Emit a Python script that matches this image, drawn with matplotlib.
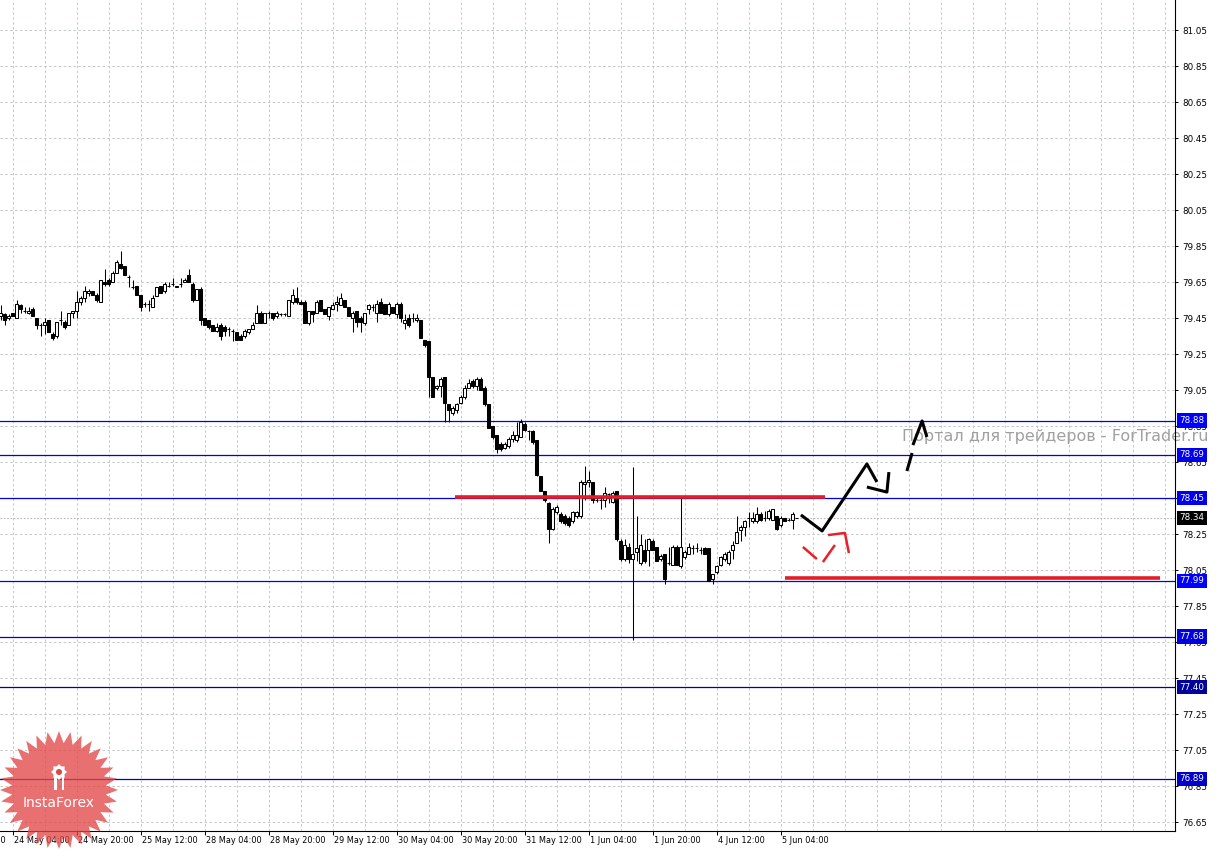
import numpy as np
import matplotlib
matplotlib.use('Agg')
import matplotlib.pyplot as plt
from matplotlib.patches import Polygon, Circle, Rectangle

# H1 candles, bar 0 .. 199
opens = [
    79.46, 79.47, 79.45, 79.48, 79.45, 79.52, 79.49, 79.48, 79.50, 79.45,
    79.41, 79.41, 79.44, 79.36, 79.35, 79.44, 79.43, 79.41, 79.48, 79.49,
    79.54, 79.56, 79.59, 79.60, 79.58, 79.54, 79.65, 79.66, 79.65, 79.70,
    79.75, 79.74, 79.68, 79.62, 79.63, 79.58, 79.53, 79.53, 79.51, 79.57,
    79.63, 79.60, 79.63, 79.64, 79.62, 79.64, 79.65, 79.69, 79.64, 79.55,
    79.61, 79.45, 79.44, 79.41, 79.38, 79.41, 79.40, 79.39, 79.38, 79.37,
    79.35, 79.35, 79.37, 79.39, 79.42, 79.48, 79.42, 79.48, 79.48, 79.46,
    79.47, 79.47, 79.46, 79.54, 79.56, 79.54, 79.54, 79.42, 79.49, 79.48,
    79.55, 79.50, 79.46, 79.50, 79.53, 79.52, 79.55, 79.51, 79.45, 79.49,
    79.45, 79.42, 79.50, 79.51, 79.48, 79.54, 79.53, 79.47, 79.51, 79.47,
    79.53, 79.42, 79.45, 79.45, 79.44, 79.44, 79.33, 79.32, 79.12, 79.06,
    79.07, 79.12, 78.97, 78.92, 78.94, 78.98, 79.01, 79.06, 79.10, 79.07,
    79.11, 79.06, 78.97, 78.85, 78.80, 78.75, 78.73, 78.74, 78.78, 78.77,
    78.79, 78.86, 78.82, 78.82, 78.77, 78.57, 78.49, 78.42, 78.28, 78.37,
    78.36, 78.35, 78.34, 78.32, 78.35, 78.35, 78.53, 78.54, 78.54, 78.44,
    78.44, 78.44, 78.47, 78.43, 78.49, 78.21, 78.11, 78.18, 78.11, 78.15,
    78.09, 78.16, 78.16, 78.21, 78.18, 78.11, 78.14, 78.09, 78.08, 78.18,
    78.07, 78.12, 78.14, 78.17, 78.17, 78.16, 78.17, 78.17, 78.00, 78.04,
    78.08, 78.11, 78.09, 78.16, 78.20, 78.27, 78.29, 78.34, 78.32, 78.32,
    78.36, 78.34, 78.34, 78.33, 78.35, 78.30, 78.34, 78.33, 78.33, 78.34,
]
highs = [
    79.52, 79.48, 79.47, 79.48, 79.55, 79.53, 79.51, 79.51, 79.51, 79.45,
    79.42, 79.45, 79.44, 79.37, 79.43, 79.49, 79.44, 79.48, 79.49, 79.60,
    79.57, 79.63, 79.61, 79.60, 79.59, 79.66, 79.72, 79.67, 79.71, 79.77,
    79.82, 79.74, 79.69, 79.66, 79.63, 79.58, 79.54, 79.55, 79.58, 79.62,
    79.63, 79.65, 79.65, 79.67, 79.63, 79.67, 79.67, 79.72, 79.65, 79.61,
    79.62, 79.45, 79.44, 79.41, 79.42, 79.42, 79.41, 79.40, 79.39, 79.37,
    79.36, 79.39, 79.39, 79.43, 79.52, 79.49, 79.48, 79.49, 79.48, 79.49,
    79.48, 79.48, 79.55, 79.61, 79.62, 79.55, 79.55, 79.49, 79.49, 79.55,
    79.55, 79.50, 79.51, 79.54, 79.57, 79.59, 79.55, 79.51, 79.49, 79.49,
    79.46, 79.48, 79.53, 79.53, 79.55, 79.56, 79.53, 79.54, 79.51, 79.54,
    79.54, 79.47, 79.47, 79.48, 79.47, 79.44, 79.33, 79.32, 79.12, 79.08,
    79.12, 79.12, 78.97, 78.96, 78.98, 79.02, 79.08, 79.11, 79.11, 79.12,
    79.12, 79.07, 78.97, 78.85, 78.80, 78.76, 78.76, 78.79, 78.82, 78.87,
    78.89, 78.87, 78.83, 78.83, 78.77, 78.57, 78.49, 78.43, 78.40, 78.41,
    78.37, 78.36, 78.35, 78.38, 78.38, 78.55, 78.63, 78.60, 78.54, 78.45,
    78.46, 78.51, 78.48, 78.49, 78.49, 78.22, 78.22, 78.20, 78.62, 78.35,
    78.25, 78.22, 78.23, 78.22, 78.18, 78.14, 78.14, 78.18, 78.19, 78.19,
    78.46, 78.16, 78.20, 78.19, 78.20, 78.18, 78.18, 78.17, 78.03, 78.08,
    78.13, 78.15, 78.16, 78.21, 78.35, 78.30, 78.33, 78.37, 78.37, 78.40,
    78.37, 78.38, 78.39, 78.39, 78.35, 78.35, 78.34, 78.34, 78.37, 78.34,
]
lows = [
    79.44, 79.41, 79.44, 79.46, 79.45, 79.48, 79.48, 79.47, 79.46, 79.39,
    79.35, 79.36, 79.37, 79.33, 79.34, 79.41, 79.39, 79.41, 79.45, 79.45,
    79.52, 79.54, 79.57, 79.58, 79.54, 79.54, 79.63, 79.63, 79.65, 79.70,
    79.72, 79.69, 79.62, 79.61, 79.58, 79.49, 79.51, 79.49, 79.51, 79.57,
    79.59, 79.59, 79.62, 79.63, 79.62, 79.62, 79.65, 79.65, 79.54, 79.55,
    79.41, 79.41, 79.39, 79.38, 79.37, 79.33, 79.35, 79.35, 79.32, 79.33,
    79.33, 79.34, 79.36, 79.39, 79.42, 79.42, 79.42, 79.45, 79.44, 79.45,
    79.46, 79.46, 79.46, 79.53, 79.53, 79.53, 79.42, 79.41, 79.43, 79.48,
    79.49, 79.47, 79.44, 79.50, 79.49, 79.52, 79.51, 79.46, 79.37, 79.40,
    79.37, 79.41, 79.47, 79.49, 79.43, 79.48, 79.47, 79.46, 79.48, 79.45,
    79.43, 79.39, 79.40, 79.43, 79.43, 79.34, 79.29, 79.01, 79.01, 79.05,
    79.01, 78.87, 78.87, 78.91, 78.92, 78.97, 79.00, 79.06, 79.06, 79.05,
    79.05, 78.96, 78.84, 78.78, 78.70, 78.71, 78.72, 78.73, 78.76, 78.76,
    78.79, 78.82, 78.77, 78.75, 78.57, 78.49, 78.43, 78.20, 78.27, 78.36,
    78.31, 78.30, 78.29, 78.31, 78.34, 78.34, 78.44, 78.51, 78.42, 78.43,
    78.39, 78.40, 78.42, 78.42, 78.21, 78.10, 78.10, 78.09, 77.66, 78.10,
    78.08, 78.09, 78.07, 78.16, 78.10, 78.10, 77.97, 78.08, 78.08, 78.08,
    78.06, 78.11, 78.14, 78.14, 78.15, 78.14, 78.14, 77.99, 77.97, 78.03,
    78.07, 78.10, 78.08, 78.11, 78.20, 78.21, 78.24, 78.29, 78.31, 78.31,
    78.32, 78.32, 78.33, 78.33, 78.27, 78.29, 78.32, 78.32, 78.28, 78.34,
]
closes = [
    79.48, 79.44, 79.46, 79.46, 79.53, 79.50, 79.49, 79.49, 79.46, 79.41,
    79.41, 79.43, 79.37, 79.34, 79.43, 79.44, 79.40, 79.48, 79.49, 79.54,
    79.56, 79.60, 79.60, 79.58, 79.55, 79.66, 79.64, 79.64, 79.70, 79.76,
    79.73, 79.69, 79.68, 79.62, 79.58, 79.51, 79.53, 79.53, 79.56, 79.62,
    79.59, 79.64, 79.63, 79.64, 79.63, 79.64, 79.66, 79.65, 79.55, 79.61,
    79.44, 79.41, 79.40, 79.38, 79.40, 79.35, 79.38, 79.39, 79.38, 79.33,
    79.33, 79.38, 79.39, 79.41, 79.48, 79.42, 79.48, 79.48, 79.45, 79.48,
    79.47, 79.47, 79.55, 79.58, 79.54, 79.53, 79.42, 79.49, 79.47, 79.54,
    79.49, 79.47, 79.51, 79.52, 79.54, 79.56, 79.51, 79.46, 79.48, 79.43,
    79.43, 79.48, 79.52, 79.51, 79.53, 79.48, 79.47, 79.53, 79.48, 79.53,
    79.45, 79.44, 79.41, 79.45, 79.45, 79.34, 79.30, 79.12, 79.01, 79.07,
    79.11, 78.98, 78.94, 78.95, 78.97, 79.01, 79.06, 79.09, 79.07, 79.11,
    79.05, 78.97, 78.84, 78.79, 78.72, 78.72, 78.75, 78.78, 78.80, 78.80,
    78.87, 78.83, 78.82, 78.76, 78.58, 78.49, 78.44, 78.28, 78.39, 78.40,
    78.32, 78.31, 78.30, 78.37, 78.37, 78.54, 78.54, 78.55, 78.44, 78.44,
    78.44, 78.48, 78.47, 78.48, 78.22, 78.11, 78.19, 78.11, 78.14, 78.17,
    78.19, 78.10, 78.22, 78.16, 78.10, 78.13, 78.00, 78.09, 78.18, 78.08,
    78.18, 78.15, 78.18, 78.17, 78.17, 78.16, 78.14, 77.99, 78.03, 78.07,
    78.12, 78.14, 78.15, 78.19, 78.26, 78.29, 78.32, 78.34, 78.34, 78.36,
    78.33, 78.34, 78.38, 78.39, 78.28, 78.34, 78.32, 78.33, 78.36, 78.34,
]

# price scale
y_ticks = [81.05, 80.85, 80.65, 80.45, 80.25, 80.05, 79.85, 79.65, 79.45, 79.25,
           79.05, 78.85, 78.65, 78.45, 78.25, 78.05, 77.85, 77.65, 77.45, 77.25,
           77.05, 76.85, 76.65]
time_labels = ['23 May 12:00', '24 May 04:00', '24 May 20:00', '25 May 12:00',
               '28 May 04:00', '28 May 20:00', '29 May 12:00', '30 May 04:00',
               '30 May 20:00', '31 May 12:00', '1 Jun 04:00', '1 Jun 20:00',
               '4 Jun 12:00', '5 Jun 04:00']
first_label_bar = -13   # one label every 16 bars

# horizontal levels with their price tags
levels = [78.88, 78.69, 78.45, 77.99, 77.68, 77.40, 76.89]
level_colors = ['#0000ff', '#0000ee', '#0000ee', '#0000ff', '#0000dd', '#00009a', '#0000c8']
bid = 78.34

# hand drawn zones and arrows (bar, price)
red_zones = [(113.6, 206.1, 78.455), (196.1, 289.9, 78.004)]
black_strokes = [
    ([200.1, 205.4, 216.6, 219.1], [78.356, 78.267, 78.639, 78.539]),
    ([216.6, 221.6, 222.1], [78.511, 78.483, 78.594]),
    ([226.6, 227.9], [78.600, 78.700]),
    ([228.1, 230.4, 231.6], [78.744, 78.878, 78.789]),
]
red_strokes = [
    ([200.6, 204.1], [78.178, 78.111]),
    ([205.6, 208.6], [78.094, 78.189]),
    ([206.9, 211.1, 212.1], [78.244, 78.256, 78.144]),
]

W, H = 1217, 851
fig = plt.figure(figsize=(W / 100, H / 100), dpi=100, facecolor='white')
ax = fig.add_axes([0, 20 / H, 1175 / W, 831 / H])
ax.set_xlim(-0.125, 293.625)
ax.set_ylim(76.60, 81.2167)

# grid
for yv in y_ticks:
    ax.axhline(yv, color='#c2c8c2', lw=0.7, ls=(0, (2.5, 2.5)), zorder=0)
for xv in range(-5, 294, 8):
    ax.axvline(xv, color='#cfc0da', lw=0.7, ls=(0, (2.5, 2.5)), zorder=0)

# levels
for lv, col in zip(levels, level_colors):
    ax.axhline(lv, color=col, lw=0.9, zorder=1)
ax.axhline(bid, color='#b8b8b8', lw=0.8, ls=(0, (1.5, 1.5)), zorder=1)

# candles
o = np.array(opens); h = np.array(highs); l = np.array(lows); c = np.array(closes)
x = np.arange(len(c))
ax.vlines(x, l, h, color='black', lw=0.75, zorder=3)
up = c >= o
bot = np.minimum(o, c)
ht = np.abs(c - o)
ax.bar(x[up], ht[up], bottom=bot[up], width=0.7, color='white',
       edgecolor='black', lw=0.75, zorder=4)
ax.bar(x[~up], ht[~up], bottom=bot[~up], width=0.7, color='black',
       edgecolor='black', lw=0.75, zorder=4)

# red zones and arrows
for x0, x1, yv in red_zones:
    ax.hlines(yv, x0, x1, color='#e41e24', lw=2.6, zorder=5)
for xs, ys in black_strokes:
    ax.plot(xs, ys, color='black', lw=2.2, solid_capstyle='butt', zorder=6)
for xs, ys in red_strokes:
    ax.plot(xs, ys, color='#e8202a', lw=1.8, solid_capstyle='butt', zorder=6)

# axes frame
for s in ['left', 'top']:
    ax.spines[s].set_visible(False)
for s in ['right', 'bottom']:
    ax.spines[s].set_linewidth(0.8)
ax.yaxis.tick_right()
ax.set_yticks(y_ticks)
ax.set_yticklabels([f'{v:.2f}' for v in y_ticks])
ax.tick_params(axis='y', direction='out', length=2.5, width=0.7, pad=2.5, labelsize=6.3)
label_bars = [first_label_bar + 16 * i for i in range(len(time_labels))]
ax.set_xticks([b for b in label_bars if b >= 0])
ax.set_xticklabels([])
ax.tick_params(axis='x', direction='out', length=3, width=0.7)
for b, t in zip(label_bars, time_labels):
    ax.text(b + 0.5, -0.012, t, transform=ax.get_xaxis_transform(), ha='left',
            va='center', fontsize=5.9, clip_on=False)

# price tags
for lv, col in zip(levels, level_colors):
    ax.text(1.0037, lv, f'{lv:.2f}', transform=ax.get_yaxis_transform(), ha='left',
            va='center', color='white', fontsize=6.3, clip_on=False, zorder=10,
            bbox=dict(boxstyle='square,pad=0.3', fc=col, ec='none'))
ax.text(1.0037, bid, f'{bid:.2f}', transform=ax.get_yaxis_transform(), ha='left',
        va='center', color='white', fontsize=6.3, clip_on=False, zorder=10,
        bbox=dict(boxstyle='square,pad=0.3', fc='black', ec='none'))

# watermark
ax.text(902 / W, 1 - 437 / H, 'Портал для трейдеров - ForTrader.ru', transform=fig.transFigure,
        ha='left', va='center', fontsize=11.5, color='#a0a0a0', clip_on=False, zorder=2)

# InstaForex badge
lax = fig.add_axes([0, 0, 1, 1], zorder=20)
lax.set_xlim(0, W)
lax.set_ylim(H, 0)
lax.axis('off')
lax.patch.set_alpha(0)
n = 32
ang = np.linspace(0, 2 * np.pi, 2 * n, endpoint=False)
rad = np.where(np.arange(2 * n) % 2 == 0, 59, 47)
cx, cy = 59, 790
lax.add_patch(Polygon(np.column_stack([cx + rad * np.cos(ang), cy + rad * np.sin(ang)]),
                      closed=True, fc='#e24848', ec='none', alpha=0.78))
ga = np.linspace(0, 2 * np.pi, 16, endpoint=False)
gr = np.where(np.arange(16) % 2 == 0, 8, 6)
lax.add_patch(Polygon(np.column_stack([cx + gr * np.cos(ga), 772 + gr * np.sin(ga)]),
                      closed=True, fc='white', ec='none'))
lax.add_patch(Circle((cx, 772), 3, fc='#e04646', ec='none'))
lax.add_patch(Rectangle((cx - 5, 777), 2.5, 13, fc='white', ec='none'))
lax.add_patch(Rectangle((cx + 2.5, 777), 2.5, 13, fc='white', ec='none'))
lax.text(cx, 803, 'InstaForex', color='white', fontsize=10, ha='center', va='center')

fig.savefig('out.png', dpi=100, facecolor='white')
